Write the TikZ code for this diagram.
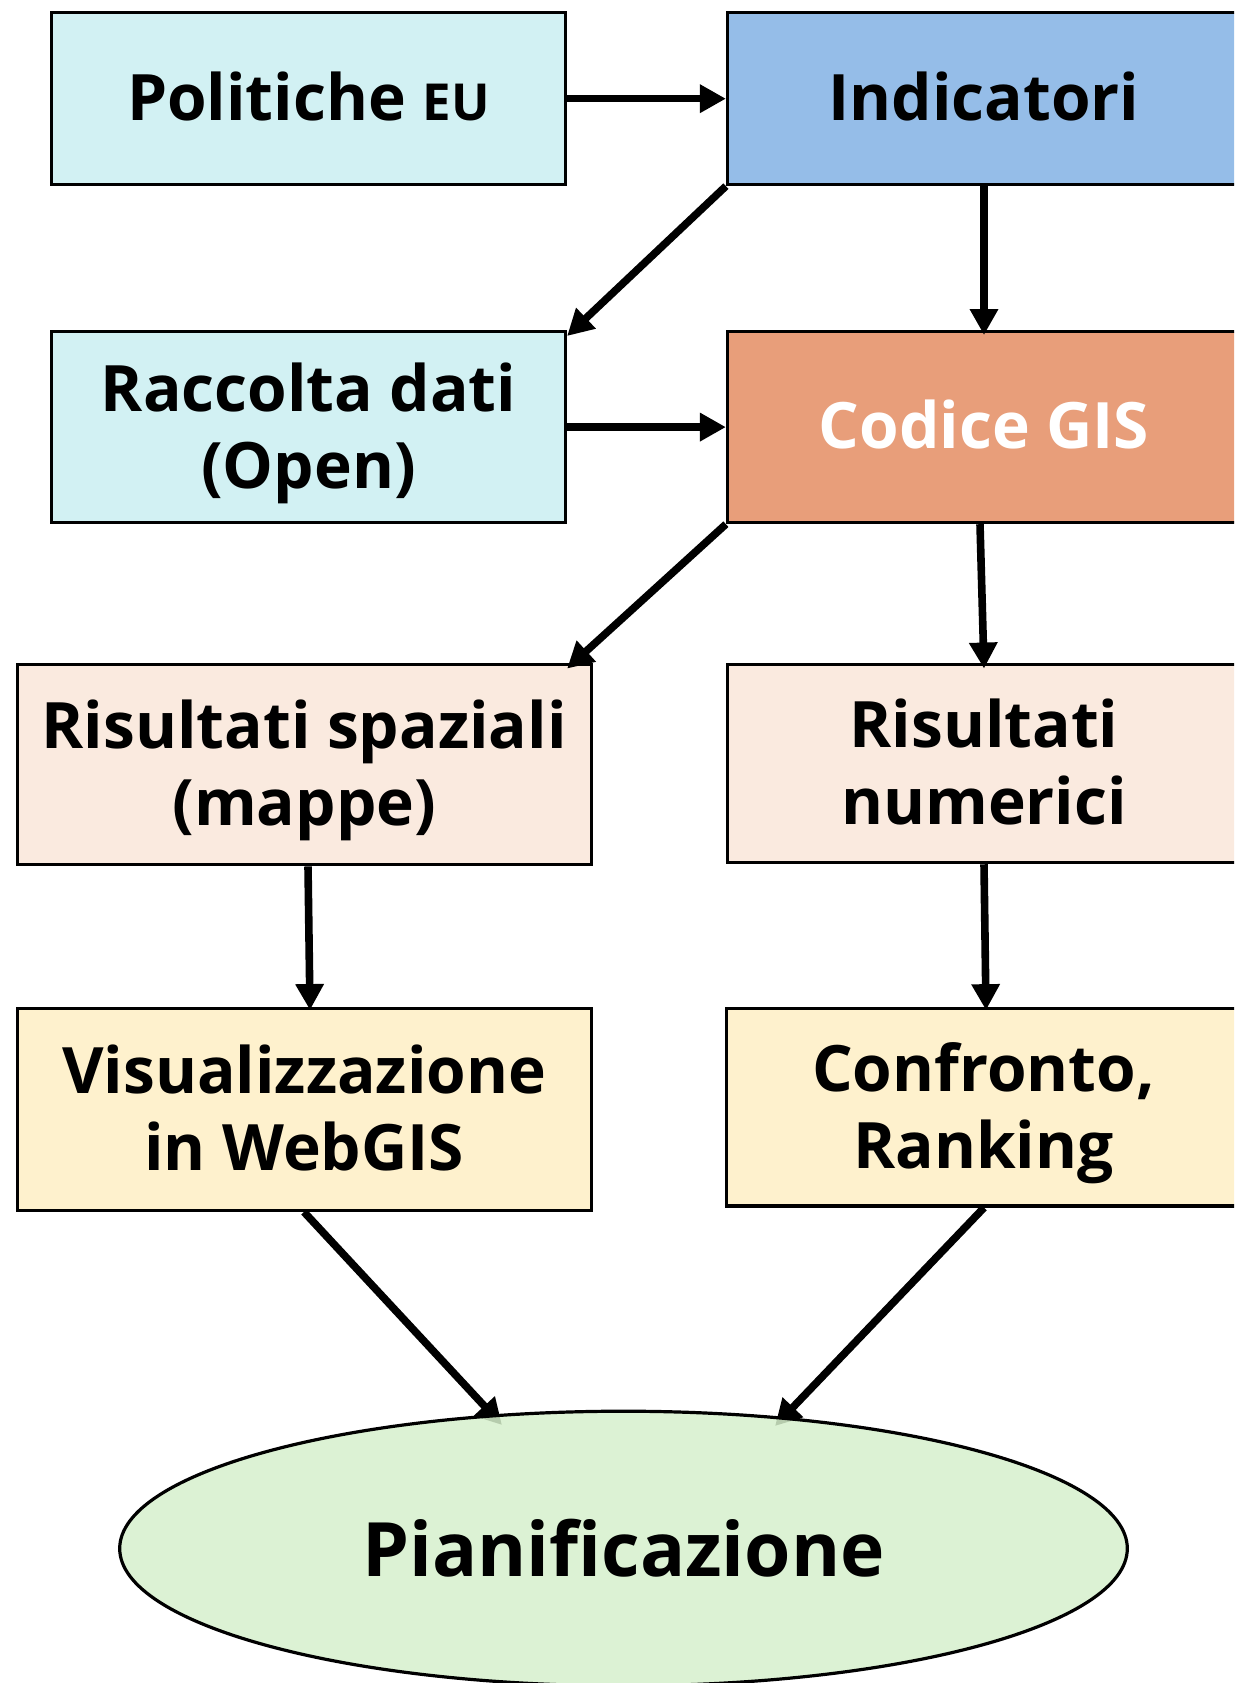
\documentclass[tikz,border=0pt]{standalone}
\usepackage{fontspec}
\setmainfont{Open Sans}
\usetikzlibrary{arrows.meta,shapes.geometric}
\definecolor{cyanbox}{HTML}{D2F1F3}
\definecolor{bluebox}{HTML}{95BDE8}
\definecolor{orangebox}{HTML}{E89E7A}
\definecolor{peachbox}{HTML}{FAEADF}
\definecolor{yellowbox}{HTML}{FEF1CD}
\definecolor{greenell}{RGB}{214,240,204}
\tikzset{
  box/.style={draw=black, line width=3.2pt, rectangle, inner sep=0pt, align=center,
    font=\fontsize{64}{77}\selectfont\bfseries},
  oneline/.style={text height=60pt, text depth=17pt},
  twoline/.style={text height=137pt, text depth=15pt},
  conn/.style={line width=7.6pt, -{Triangle[length=26pt,width=27pt]}},
}
\begin{document}
\begin{tikzpicture}[x=1pt,y=-1pt]
\useasboundingbox (0,0) rectangle (1234,1683);
\clip (0,0) rectangle (1234,1683);
\node[box, oneline, fill=cyanbox, minimum width=514pt, minimum height=171.7pt] (pol) at (308.5,98.7) {Politiche {\fontsize{51}{60}\selectfont EU}};
\node[box, oneline, fill=bluebox, minimum width=513pt, minimum height=171.7pt] (ind) at (984,98.7) {Indicatori};
\node[box, twoline, fill=cyanbox, minimum width=514pt, minimum height=191pt] (rac) at (308.5,427.1) {Raccolta dati\\(Open)};
\node[box, oneline, fill=orangebox, minimum width=513pt, minimum height=191pt, text=white] (cod) at (984,427.1) {Codice GIS};
\node[box, twoline, fill=peachbox, minimum width=574pt, minimum height=200.7pt] (spa) at (304.2,764.5) {Risultati spaziali\\(mappe)};
\node[box, twoline, fill=peachbox, minimum width=513pt, minimum height=198.5pt] (num) at (984,763.4) {Risultati\\numerici};
\node[box, twoline, fill=yellowbox, minimum width=574pt, minimum height=201.7pt] (vis) at (304.2,1109.5) {Visualizzazione\\in WebGIS};
\node[box, twoline, fill=yellowbox, minimum width=514pt, minimum height=197.3pt] (con) at (983.4,1107.4) {Confronto,\\Ranking};
\draw[conn] (pol.east) -- (ind.west);
\draw[conn] (rac.east) -- (rac.east -| ind.west);
\draw[conn] (ind.south west) -- ([yshift=-6pt]rac.north east);
\draw[conn] (ind.south -| 984,0) -- ([yshift=-5pt]cod.north -| 984,0);
\draw[conn] (cod.south west) -- ([yshift=-6pt]spa.north east -| rac.east);
\draw[conn] ([xshift=-4pt]cod.south -| 984,0) -- ([yshift=-6pt]num.north -| 984,0);
\draw[conn] (spa.south -| 308,0) -- ([yshift=-3pt]vis.north -| 310,0);
\draw[conn] (num.south -| 984,0) -- ([yshift=-3pt]con.north -| 986,0);
\coordinate (pl) at (502,1425);
\coordinate (pr) at (775,1426);
\draw[conn] (vis.south -| 304,0) -- (pl);
\draw[conn] (con.south -| 984,0) -- (pr);
\node[draw=black, line width=3.2pt, ellipse, fill=greenell, fill opacity=0.85, text opacity=1, inner sep=0pt, minimum width=1007.6pt, minimum height=274.6pt, font=\fontsize{75}{90}\selectfont\bfseries] (pia) at (623.5,1548.5) {Pianificazione};
\end{tikzpicture}
\end{document}
